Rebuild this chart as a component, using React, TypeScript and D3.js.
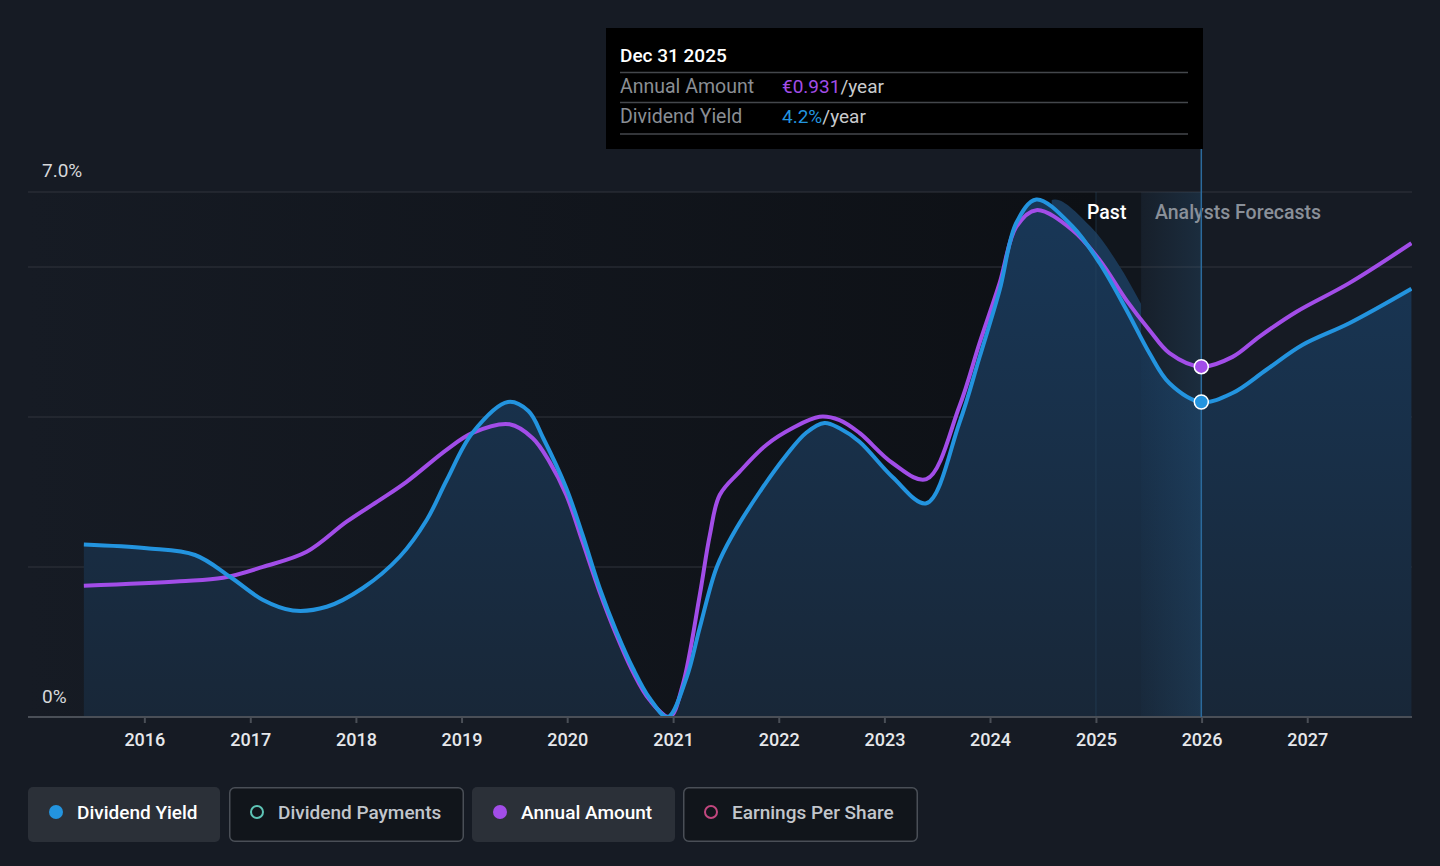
import * as d3 from 'd3';
import { useEffect, useRef } from 'react';

// Dividend yield (%), past and analyst forecasts
const yieldDates = [
  '2015-06-06', '2016-01-09', '2016-06-24', '2016-10-23', '2017-02-14', '2017-05-28',
  '2017-09-22', '2018-01-25', '2018-06-02', '2018-09-03', '2018-11-11', '2019-02-08',
  '2019-06-10', '2019-08-20', '2019-10-10', '2019-12-29', '2020-02-23', '2020-04-22',
  '2020-06-19', '2020-08-15', '2020-10-12', '2020-12-13', '2021-02-16', '2021-04-03',
  '2021-05-31', '2021-07-26', '2021-10-27', '2022-01-27', '2022-04-06', '2022-06-08',
  '2022-07-30', '2022-10-07', '2023-01-29', '2023-05-26', '2023-09-17', '2023-11-26',
  '2024-02-03', '2024-04-01', '2024-06-09', '2024-10-12', '2025-01-14', '2025-04-16',
  '2025-07-05', '2025-09-12', '2025-12-31', '2026-04-18', '2026-08-13', '2026-12-15',
  '2027-05-26', '2027-12-27',
];
const yieldValues = [
  2.3, 2.25, 2.16, 1.87, 1.56, 1.42, 1.47, 1.72, 2.14, 2.63, 3.16, 3.79,
  4.2, 4.08, 3.72, 3.05, 2.43, 1.72, 1.14, 0.65, 0.25, 0, 0.52, 1.19,
  1.99, 2.43, 3.0, 3.49, 3.79, 3.92, 3.85, 3.67, 3.2, 2.85, 3.92, 4.8,
  5.69, 6.59, 6.9, 6.54, 6.05, 5.43, 4.85, 4.45, 4.2, 4.32, 4.63, 4.96,
  5.25, 5.71,
];

// Annual amount (EUR per share)
const amountDates = [
  '2015-06-06', '2016-05-03', '2016-09-29', '2017-02-14', '2017-07-15', '2017-11-30',
  '2018-03-25', '2018-06-25', '2018-11-10', '2019-02-08', '2019-06-16', '2019-09-04',
  '2019-11-01', '2019-12-29', '2020-02-23', '2020-04-22', '2020-06-19', '2020-08-15',
  '2020-10-12', '2020-12-20', '2021-02-03', '2021-04-03', '2021-05-08', '2021-06-11',
  '2021-08-19', '2021-11-19', '2022-02-18', '2022-05-22', '2022-07-30', '2022-10-07',
  '2023-01-29', '2023-05-26', '2023-09-17', '2023-11-26', '2024-02-03', '2024-04-01',
  '2024-06-09', '2024-10-12', '2025-01-14', '2025-04-16', '2025-07-05', '2025-09-12',
  '2025-12-31', '2026-04-18', '2026-07-20', '2026-11-25', '2027-05-26', '2027-12-27',
];
const amountValues = [
  0.349, 0.361, 0.37, 0.399, 0.439, 0.519, 0.577, 0.625, 0.71, 0.755, 0.778, 0.741,
  0.678, 0.59, 0.466, 0.333, 0.218, 0.12, 0.045, 0, 0.085, 0.324, 0.484, 0.59,
  0.652, 0.723, 0.768, 0.798, 0.789, 0.755, 0.675, 0.632, 0.825, 0.994, 1.153, 1.303,
  1.347, 1.294, 1.214, 1.108, 1.028, 0.967, 0.931, 0.957, 1.011, 1.077, 1.153, 1.259,
];

const yearTicks = [2016, 2017, 2018, 2019, 2020, 2021, 2022, 2023, 2024, 2025, 2026, 2027];
const gridValues = [2, 4, 6, 7];

const legendItems = [
  { label: 'Dividend Yield', color: '#2394df', active: true },
  { label: 'Dividend Payments', color: '#5ec4b6', active: false },
  { label: 'Annual Amount', color: '#a24de8', active: true },
  { label: 'Earnings Per Share', color: '#c2477f', active: false },
];

const W = 1440;
const H = 866;
const FONT = 'Roboto, "Noto Sans", sans-serif';
const BLUE = '#2394df';
const PURPLE = '#a24de8';

interface Pt {
  date: Date;
  value: number;
}

export default function App() {
  const ref = useRef<SVGSVGElement>(null);

  useEffect(() => {
    const parse = d3.timeParse('%Y-%m-%d');
    const yld: Pt[] = yieldDates.map((d, i) => ({ date: parse(d) as Date, value: yieldValues[i] }));
    const amt: Pt[] = amountDates.map((d, i) => ({ date: parse(d) as Date, value: amountValues[i] }));

    const left = 28;
    const right = 1412;
    const top = 192;
    const bottom = 717;

    const x = d3
      .scaleTime()
      .domain([new Date(2014, 10, 25), new Date(2027, 11, 29)])
      .range([left, right]);
    const y = d3.scaleLinear().domain([0, 7]).range([bottom, top]);
    // amount shares the plot height; €0.931 lines up with the tooltip marker
    const yAmt = d3.scaleLinear().domain([0, 1.3952]).range([bottom, top]);

    const hoverDate = parse('2025-12-31') as Date;
    const pastEnd = x(new Date(2025, 5, 6));
    const x2025 = x(new Date(2025, 0, 1));
    const hover = x(hoverDate);

    const svg = d3.select(ref.current);
    svg.selectAll('*').remove();

    const defs = svg.append('defs');
    const bg = defs.append('linearGradient').attr('id', 'bgGrad');
    bg.append('stop').attr('offset', '0%').attr('stop-color', '#161b24');
    bg.append('stop').attr('offset', '100%').attr('stop-color', '#0d1015');

    const areaGrad = defs
      .append('linearGradient')
      .attr('id', 'areaGrad')
      .attr('x1', 0)
      .attr('x2', 0)
      .attr('y1', 0)
      .attr('y2', 1);
    areaGrad.append('stop').attr('offset', '0%').attr('stop-color', '#183757');
    areaGrad.append('stop').attr('offset', '100%').attr('stop-color', '#182738');

    const band = defs.append('linearGradient').attr('id', 'bandGrad');
    band.append('stop').attr('offset', '0%').attr('stop-color', '#3a8ccc').attr('stop-opacity', 0.02);
    band.append('stop').attr('offset', '100%').attr('stop-color', '#3a8ccc').attr('stop-opacity', 0.14);

    const shadowStart = x(new Date(2024, 7, 1));
    defs
      .append('clipPath')
      .attr('id', 'shadowClip')
      .append('rect')
      .attr('x', shadowStart)
      .attr('y', 0)
      .attr('width', pastEnd - shadowStart)
      .attr('height', H);

    defs
      .append('clipPath')
      .attr('id', 'plotClip')
      .append('rect')
      .attr('x', left)
      .attr('y', 0)
      .attr('width', right - left)
      .attr('height', bottom);

    svg.append('rect').attr('width', W).attr('height', H).attr('fill', '#161b24');

    // background bands: past / recent past / forecast up to hover
    svg
      .append('rect')
      .attr('x', left)
      .attr('y', top)
      .attr('width', x2025 - left)
      .attr('height', bottom - top)
      .attr('fill', 'url(#bgGrad)');
    svg
      .append('rect')
      .attr('x', x2025)
      .attr('y', top)
      .attr('width', pastEnd - x2025)
      .attr('height', bottom - top)
      .attr('fill', '#11161d');
    svg
      .append('rect')
      .attr('x', pastEnd)
      .attr('y', top)
      .attr('width', hover - pastEnd)
      .attr('height', bottom - top)
      .attr('fill', '#161d27');

    svg
      .append('g')
      .selectAll('line')
      .data(gridValues)
      .join('line')
      .attr('x1', left)
      .attr('x2', right)
      .attr('y1', (d) => y(d))
      .attr('y2', (d) => y(d))
      .attr('stroke', '#30353d')
      .attr('stroke-width', 1);

    const curve = d3.curveCatmullRom.alpha(0.5);

    const area = d3
      .area<Pt>()
      .x((d) => x(d.date))
      .y0(bottom)
      .y1((d) => y(d.value))
      .curve(curve);

    const plot = svg.append('g').attr('clip-path', 'url(#plotClip)');

    // lagging shadow of the yield area in the last past months
    plot
      .append('g')
      .attr('clip-path', 'url(#shadowClip)')
      .append('path')
      .datum(yld)
      .attr('transform', 'translate(18,0)')
      .attr('fill', '#1a3856')
      .attr('d', area);

    plot.append('path').datum(yld).attr('fill', 'url(#areaGrad)').attr('d', area);

    plot
      .append('rect')
      .attr('x', pastEnd)
      .attr('y', top)
      .attr('width', hover - pastEnd)
      .attr('height', bottom - top)
      .attr('fill', 'url(#bandGrad)');
    plot
      .append('line')
      .attr('x1', x2025)
      .attr('x2', x2025)
      .attr('y1', top)
      .attr('y2', bottom)
      .attr('stroke', '#2a4a66')
      .attr('stroke-opacity', 0.5);

    const amtLine = d3
      .line<Pt>()
      .x((d) => x(d.date))
      .y((d) => yAmt(d.value))
      .curve(curve);
    const yldLine = d3
      .line<Pt>()
      .x((d) => x(d.date))
      .y((d) => y(d.value))
      .curve(curve);

    plot
      .append('path')
      .datum(amt)
      .attr('fill', 'none')
      .attr('stroke', PURPLE)
      .attr('stroke-width', 4)
      .attr('d', amtLine);
    plot
      .append('path')
      .datum(yld)
      .attr('fill', 'none')
      .attr('stroke', BLUE)
      .attr('stroke-width', 4)
      .attr('d', yldLine);

    const axis = svg
      .append('g')
      .attr('transform', `translate(0,${bottom})`)
      .call(
        d3
          .axisBottom(x)
          .tickValues(yearTicks.map((yr) => new Date(yr, 0, 1)))
          .tickFormat((d) => d3.timeFormat('%Y')(d as Date))
          .tickSize(6)
          .tickPadding(10)
      );
    axis.select('.domain').attr('stroke', '#4a4f57').attr('stroke-width', 2).attr('d', `M${left},0H${right}`);
    axis.selectAll('.tick line').attr('stroke', '#4a4f57').attr('stroke-width', 2);
    axis
      .selectAll('.tick text')
      .attr('fill', '#e6e8eb')
      .attr('font-size', 18)
      .attr('font-weight', 500)
      .attr('font-family', FONT);

    svg
      .append('text')
      .attr('x', 42)
      .attr('y', 177)
      .attr('fill', '#d6d8db')
      .attr('font-size', 19)
      .attr('font-family', FONT)
      .text('7.0%');
    svg
      .append('text')
      .attr('x', 42)
      .attr('y', 703)
      .attr('fill', '#d6d8db')
      .attr('font-size', 19)
      .attr('font-family', FONT)
      .text('0%');

    svg
      .append('text')
      .attr('x', 1087)
      .attr('y', 219)
      .attr('fill', '#ffffff')
      .attr('font-size', 19.5)
      .attr('font-weight', 500)
      .attr('font-family', FONT)
      .text('Past');
    svg
      .append('text')
      .attr('x', 1155)
      .attr('y', 219)
      .attr('fill', '#8a9099')
      .attr('font-size', 19.5)
      .attr('font-weight', 500)
      .attr('font-family', FONT)
      .text('Analysts Forecasts');

    svg
      .append('line')
      .attr('x1', hover)
      .attr('x2', hover)
      .attr('y1', 148)
      .attr('y2', bottom)
      .attr('stroke', '#2b6a9c')
      .attr('stroke-width', 1.5);

    const curYld = yld.find((d) => +d.date === +hoverDate) as Pt;
    const curAmt = amt.find((d) => +d.date === +hoverDate) as Pt;
    svg
      .append('circle')
      .attr('cx', x(curAmt.date))
      .attr('cy', yAmt(curAmt.value))
      .attr('r', 7)
      .attr('fill', PURPLE)
      .attr('stroke', '#fff')
      .attr('stroke-width', 1.5);
    svg
      .append('circle')
      .attr('cx', x(curYld.date))
      .attr('cy', y(curYld.value))
      .attr('r', 7)
      .attr('fill', BLUE)
      .attr('stroke', '#fff')
      .attr('stroke-width', 1.5);

    // tooltip
    const tip = svg.append('g');
    tip.append('rect').attr('x', 606).attr('y', 28).attr('width', 597).attr('height', 121).attr('fill', '#000');
    tip
      .append('text')
      .attr('x', 620)
      .attr('y', 62)
      .attr('fill', '#fff')
      .attr('font-size', 19)
      .attr('font-weight', 500)
      .attr('font-family', FONT)
      .text(d3.timeFormat('%b %d %Y')(hoverDate));
    [72.5, 102.5, 134].forEach((ly) =>
      tip
        .append('line')
        .attr('x1', 620)
        .attr('x2', 1188)
        .attr('y1', ly)
        .attr('y2', ly)
        .attr('stroke', '#44474c')
        .attr('stroke-width', 1.5)
    );
    const rows = [
      { label: 'Annual Amount', value: `€${curAmt.value.toFixed(3)}`, color: PURPLE, yy: 93 },
      { label: 'Dividend Yield', value: `${curYld.value.toFixed(1)}%`, color: BLUE, yy: 123 },
    ];
    rows.forEach((r) => {
      tip
        .append('text')
        .attr('x', 620)
        .attr('y', r.yy)
        .attr('fill', '#8a8e94')
        .attr('font-size', 19.5)
        .attr('font-family', FONT)
        .text(r.label);
      const t = tip
        .append('text')
        .attr('x', 782)
        .attr('y', r.yy)
        .attr('font-size', 19)
        .attr('font-family', FONT);
      t.append('tspan').attr('fill', r.color).text(r.value);
      t.append('tspan').attr('fill', '#c9cbce').text('/year');
    });

    // legend
    const legendX = [28, 229, 472, 683];
    const legendW = [192, 235, 203, 235];
    const lg = svg.append('g');
    legendItems.forEach((item, i) => {
      const g = lg.append('g').attr('transform', `translate(${legendX[i]},787)`);
      g.append('rect')
        .attr('x', item.active ? 0 : 0.75)
        .attr('y', item.active ? 0 : 0.75)
        .attr('width', item.active ? legendW[i] : legendW[i] - 1.5)
        .attr('height', item.active ? 55 : 53.5)
        .attr('rx', 5)
        .attr('fill', item.active ? '#2b3038' : '#11151b')
        .attr('stroke', item.active ? 'none' : '#4a4f57')
        .attr('stroke-width', 1.5);
      g.append('circle')
        .attr('cx', 28)
        .attr('cy', 25)
        .attr('r', item.active ? 7 : 6)
        .attr('fill', item.active ? item.color : 'none')
        .attr('stroke', item.color)
        .attr('stroke-width', item.active ? 0 : 2);
      g.append('text')
        .attr('x', 49)
        .attr('y', 32)
        .attr('fill', item.active ? '#ffffff' : '#c2c6cc')
        .attr('font-size', 19)
        .attr('font-weight', 500)
        .attr('font-family', FONT)
        .text(item.label);
    });
  }, []);

  return (
    <div style={{ position: 'fixed', left: 0, top: 0, width: W, height: H, background: '#161b24' }}>
      <svg ref={ref} width={W} height={H} />
    </div>
  );
}
